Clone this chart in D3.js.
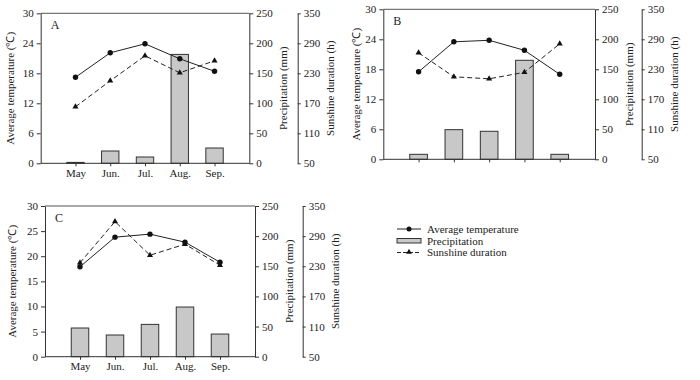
<!DOCTYPE html>
<html>
<head>
<meta charset="utf-8">
<script src="https://cdn.jsdelivr.net/npm/d3@7"></script>
<style>
  body { margin: 0; background: #fff; }
  svg text { font-family: "Liberation Serif", "Times New Roman", serif; fill: #222; }
  .axis path, .axis line { stroke: #333; }
</style>
</head>
<body>
<svg id="chart" width="700" height="380"></svg>
<script>
var months = ["May", "Jun.", "Jul.", "Aug.", "Sep."];

// panel A
var tempA   = [17.2, 22.1, 23.9, 20.9, 18.4];
var precipA = [1.5, 20.5, 10.5, 181.5, 25.5];
var sunA    = [163, 215, 265, 231, 255];

// panel B
var tempB   = [17.5, 23.5, 23.8, 21.8, 17.0];
var precipB = [8.3, 49.4, 46.7, 165, 8.3];
var sunB    = [263, 215, 211, 224, 281];

// panel C
var tempC   = [17.9, 23.8, 24.4, 22.8, 18.8];
var precipC = [47.6, 36, 53.6, 82.4, 37.6];
var sunC    = [237, 319, 252, 274, 232];

var tempTicksAB = [0, 6, 12, 18, 24, 30];
var tempTicksC  = [0, 5, 10, 15, 20, 25, 30];
var precipTicks = [0, 50, 100, 150, 200, 250];
var sunTicks    = [50, 110, 170, 230, 290, 350];

var svg = d3.select("#chart");

var panels = [
  { label: "A", temp: tempA, precip: precipA, sun: sunA, ticks: tempTicksAB,
    x0: 40.7, x1: 249.3, top: 13.3, bot: 163.3, sunX: 297.7, showX: true, titleOff: 27 },
  { label: "B", temp: tempB, precip: precipB, sun: sunB, ticks: tempTicksAB,
    x0: 383.3, x1: 595, top: 9.3, bot: 159.3, sunX: 641.7, showX: false, titleOff: 23 },
  { label: "C", temp: tempC, precip: precipC, sun: sunC, ticks: tempTicksC,
    x0: 45, x1: 255, top: 206, bot: 356.7, sunX: 302.7, showX: true, titleOff: 29 }
];

panels.forEach(drawPanel);

function drawPanel(p) {
  var g = svg.append("g");

  var x = d3.scalePoint().domain(months).range([p.x0, p.x1]).padding(1);
  var yT = d3.scaleLinear().domain([0, 30]).range([p.bot, p.top]);
  var yP = d3.scaleLinear().domain([0, 250]).range([p.bot, p.top]);
  var yS = d3.scaleLinear().domain([50, 350]).range([p.bot, p.top]);
  var bw = x.step() * 0.5;

  // bars
  g.selectAll(".bar")
    .data(p.precip)
    .enter().append("rect")
      .attr("x",      function(d,i) { return x(months[i]) - bw/2; })
      .attr("y",      function(d) { return yP(d); })
      .attr("width",  bw)
      .attr("height", function(d) { return p.bot - yP(d); })
      .attr("fill",   "#c8c8c8")
      .attr("stroke", "#333")
      .attr("stroke-width", 1);

  // top frame
  g.append("line")
    .attr("x1", p.x0).attr("x2", p.x1)
    .attr("y1", p.top).attr("y2", p.top)
    .attr("stroke", "#555");

  // axes
  var ax = g.append("g").attr("class", "axis")
    .attr("transform", "translate(0," + p.bot + ")")
    .call(d3.axisBottom(x).tickSize(3).tickSizeOuter(0).tickFormat(p.showX ? null : ""));
  ax.select(".domain").attr("d", "M" + p.x0 + ",0H" + p.x1);

  g.append("g").attr("class", "axis")
    .attr("transform", "translate(" + p.x0 + ",0)")
    .call(d3.axisLeft(yT).tickValues(p.ticks).tickSize(4).tickSizeOuter(0));

  g.append("g").attr("class", "axis")
    .attr("transform", "translate(" + p.x1 + ",0)")
    .call(d3.axisRight(yP).tickValues(precipTicks).tickSize(4).tickSizeOuter(0));

  g.append("g").attr("class", "axis")
    .attr("transform", "translate(" + p.sunX + ",0)")
    .call(d3.axisRight(yS).tickValues(sunTicks).tickSize(3).tickSizeOuter(0));

  g.selectAll(".axis text")
    .attr("font-size", 11)
    .style("font-family", '"Liberation Serif", serif')
    .attr("fill", "#222");
  g.selectAll(".axis .domain").attr("stroke", "#444");

  // lines
  var lineT = d3.line().x(function(d,i) { return x(months[i]); }).y(function(d) { return yT(d); });
  var lineS = d3.line().x(function(d,i) { return x(months[i]); }).y(function(d) { return yS(d); });

  g.append("path").datum(p.sun).attr("d", lineS)
    .attr("fill", "none").attr("stroke", "#222").attr("stroke-width", 1)
    .attr("stroke-dasharray", "5,3");
  g.append("path").datum(p.temp).attr("d", lineT)
    .attr("fill", "none").attr("stroke", "#222").attr("stroke-width", 1);

  g.selectAll(".tri")
    .data(p.sun)
    .enter().append("path")
      .attr("d", d3.symbol().type(d3.symbolTriangle).size(16))
      .attr("transform", function(d,i) { return "translate(" + x(months[i]) + "," + yS(d) + ")"; })
      .attr("fill", "#111");
  g.selectAll(".dot")
    .data(p.temp)
    .enter().append("circle")
      .attr("cx", function(d,i) { return x(months[i]); })
      .attr("cy", function(d) { return yT(d); })
      .attr("r", 2.7)
      .attr("fill", "#111");

  // panel label
  g.append("text")
    .attr("x", p.x0 + 10)
    .attr("y", p.top + 16)
    .attr("font-size", 12)
    .text(p.label);

  // axis titles
  var mid = (p.top + p.bot) / 2;
  g.append("text")
    .attr("transform", "translate(" + (p.x0 - p.titleOff) + "," + mid + ") rotate(-90)")
    .attr("text-anchor", "middle")
    .attr("font-size", 11)
    .text("Average temperature (℃)");
  g.append("text")
    .attr("transform", "translate(" + (p.x1 + 38) + "," + mid + ") rotate(-90)")
    .attr("text-anchor", "middle")
    .attr("font-size", 11)
    .text("Precipitation (mm)");
  g.append("text")
    .attr("transform", "translate(" + (p.sunX + 36) + "," + mid + ") rotate(-90)")
    .attr("text-anchor", "middle")
    .attr("font-size", 11)
    .text("Sunshine duration (h)");
}

// legend
var legend = svg.append("g").attr("transform", "translate(397,0)");
var lx1 = 0, lx2 = 24, lm = 12;

legend.append("line").attr("x1", lx1).attr("x2", lx2).attr("y1", 229).attr("y2", 229)
  .attr("stroke", "#222");
legend.append("circle").attr("cx", lm).attr("cy", 229).attr("r", 2.5).attr("fill", "#111");
legend.append("text").attr("x", 30).attr("y", 232.5).attr("font-size", 11).text("Average temperature");

legend.append("rect").attr("x", lx1).attr("y", 238.5).attr("width", lx2).attr("height", 4.5)
  .attr("fill", "#c8c8c8").attr("stroke", "#333");
legend.append("text").attr("x", 30).attr("y", 244.5).attr("font-size", 11).text("Precipitation");

legend.append("line").attr("x1", lx1).attr("x2", lx2).attr("y1", 252.5).attr("y2", 252.5)
  .attr("stroke", "#222").attr("stroke-dasharray", "4,2");
legend.append("path").attr("d", d3.symbol().type(d3.symbolTriangle).size(14))
  .attr("transform", "translate(" + lm + ",252)").attr("fill", "#111");
legend.append("text").attr("x", 30).attr("y", 256).attr("font-size", 11).text("Sunshine duration");
</script>
</body>
</html>
